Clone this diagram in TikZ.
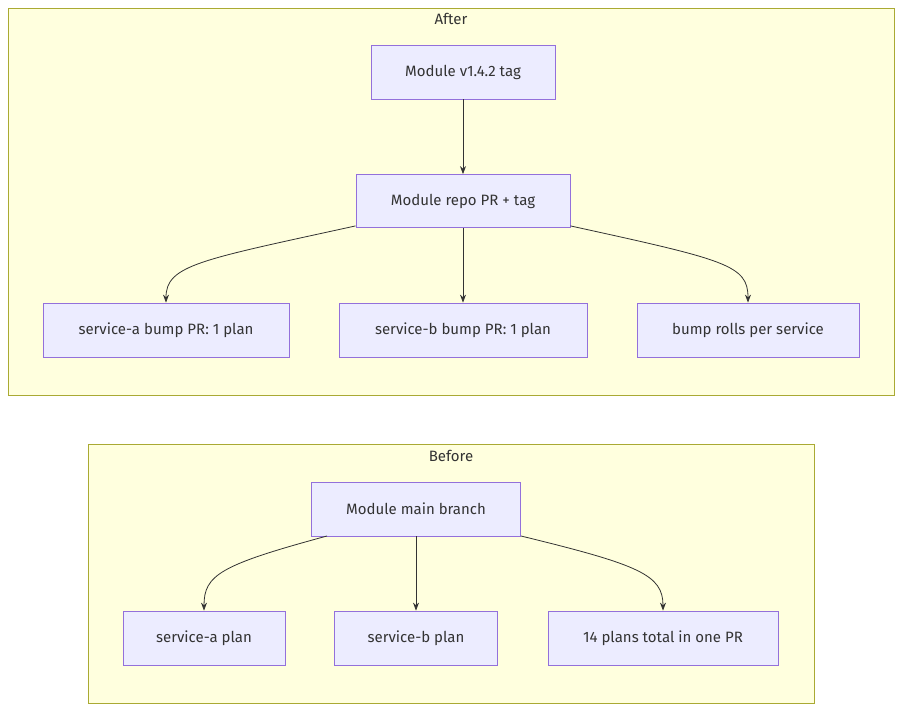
\documentclass[tikz,border=0pt]{standalone}
\usepackage{fontspec}
\setmainfont{Fira Sans}
\usetikzlibrary{arrows.meta}
\definecolor{nf}{HTML}{ECECFF}
\definecolor{ns}{HTML}{9370DB}
\definecolor{cf}{HTML}{FFFFDE}
\definecolor{cs}{HTML}{AAAA33}
\definecolor{ln}{HTML}{333333}
\begin{document}
\begin{tikzpicture}[x=1pt,y=-1pt,
  box/.style={draw=ns,fill=nf,line width=0.8pt,font=\fontsize{15}{18}\selectfont,text=ln},
  clu/.style={draw=cs,fill=cf,line width=0.8pt},
  ttl/.style={font=\fontsize{15}{18}\selectfont,text=ln},
  arr/.style={draw=ln,line width=0.8pt,-{Stealth[length=8pt,width=6pt]}}]
\useasboundingbox (0,0) rectangle (902,711);
\fill[white] (0,0) rectangle (902,711);
\draw[clu] (8,8) rectangle (894,395);
\node[ttl] (ta) at (451,19) {After};
\draw[clu] (88,444) rectangle (814,703);
\node[ttl] (tb) at (451,456) {Before};
\node[box,minimum width=184,minimum height=54] (m1) at (463,72) {Module v1.4.2 tag};
\node[box,minimum width=214,minimum height=53] (m2) at (463,201) {Module repo PR + tag};
\node[box,minimum width=246,minimum height=54] (a1) at (166,330) {service-a bump PR: 1 plan};
\node[box,minimum width=248,minimum height=54] (b1) at (463,330) {service-b bump PR: 1 plan};
\node[box,minimum width=222,minimum height=54] (c1) at (748,330) {bump rolls per service};
\node[box,minimum width=209,minimum height=54] (mb) at (416,509) {Module main branch};
\node[box,minimum width=162,minimum height=54] (a2) at (204,638) {service-a plan};
\node[box,minimum width=163,minimum height=54] (b2) at (416,638) {service-b plan};
\node[box,minimum width=230,minimum height=54] (c2) at (663,638) {14 plans total in one PR};
\draw[arr] (m1) -- (m2);
\draw[arr] (m2) -- (b1);
\draw[arr] (m2.south west) ++(0,-2) .. controls (200,260) and (166,265) .. (a1.north);
\draw[arr] (m2.south east) ++(0,-2) .. controls (726,260) and (748,265) .. (c1.north);
\draw[arr] (mb) -- (b2);
\draw[arr] (327,536) .. controls (220,565) and (204,575) .. (a2.north);
\draw[arr] (521,536) .. controls (640,565) and (663,575) .. (c2.north);
\end{tikzpicture}
\end{document}
